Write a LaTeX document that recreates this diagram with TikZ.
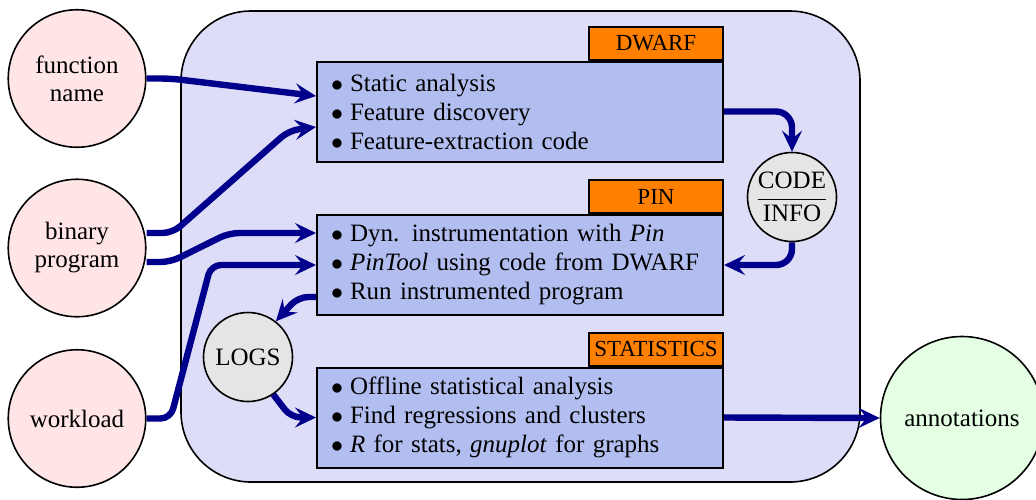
\documentclass[tikz,border=0pt]{standalone}
\usepackage{fontspec}
\setmainfont{Liberation Serif}
\usetikzlibrary{arrows.meta,calc}

\definecolor{frameblue}{RGB}{221,221,248}
\definecolor{stepblue}{RGB}{179,190,240}
\definecolor{tagorange}{RGB}{255,128,0}
\definecolor{inpink}{RGB}{255,229,229}
\definecolor{outgreen}{RGB}{229,255,229}
\definecolor{datagrey}{RGB}{229,229,229}
\definecolor{flownavy}{RGB}{0,0,140}

\newcommand{\itm}{$\bullet$\hspace{3.5pt}}

\begin{document}
\begin{tikzpicture}[x=0.5pt,y=-0.5pt,
  font=\fontsize{12.5}{14.5}\selectfont,
  outerframe/.style={draw=black, line width=0.8pt, fill=frameblue,
    rounded corners=35pt, minimum width=339.5pt, minimum height=235.5pt},
  stepbox/.style={draw=black, line width=1pt, fill=stepblue, align=left,
    text width=189pt, inner xsep=7pt, inner ysep=0pt, minimum height=50pt},
  tagbox/.style={draw=black, line width=1pt, fill=tagorange, anchor=south east,
    minimum width=67pt, minimum height=16.5pt, inner sep=0pt,
    font=\fontsize{11.5}{13}\selectfont},
  source/.style={circle, draw=black, line width=0.8pt, fill=inpink,
    align=center, inner sep=0pt, minimum size=68.75pt,
    font=\fontsize{12.5}{14}\selectfont},
  sink/.style={circle, draw=black, line width=0.8pt, fill=outgreen,
    align=center, inner sep=0pt, minimum size=81.5pt},
  datanode/.style={circle, draw=black, line width=0.8pt, fill=datagrey,
    align=center, inner sep=0pt, minimum size=44.5pt},
  flow/.style={draw=flownavy, line width=3.2pt, rounded corners=5pt,
    -{Stealth[length=10.5pt,width=10pt,inset=4pt]}}
]
\useasboundingbox (0,0) rectangle (1036,499);

% the tool chain
\node[outerframe] (frame) at (520.5,246.5) {};

\node[stepbox] (dwarf) at (520,111.5)
  {\itm Static analysis\\
   \itm Feature discovery\\
   \itm Feature-extraction code};
\node[tagbox] (dwarftag) at (dwarf.north east) {DWARF};

\node[stepbox] (pin) at (520,265)
  {\itm Dyn. instrumentation with \textit{Pin}\\
   \itm \textit{PinTool} using code from DWARF\\
   \itm Run instrumented program};
\node[tagbox] (pintag) at (pin.north east) {PIN};

\node[stepbox] (stats) at (520,417.5)
  {\itm Offline statistical analysis\\
   \itm Find regressions and clusters\\
   \itm \textit{R} for stats, \textit{gnuplot} for graphs};
\node[tagbox] (statstag) at (stats.north east) {STATISTICS};

% intermediate data
\node[datanode] (code) at (792,197) {$\displaystyle\frac{\mbox{CODE}}{\mbox{INFO}}$};
\node[datanode] (logs) at (248,357) {LOGS};

% inputs and output
\node[source] (fname) at (77,78.5) {function\\name};
\node[source] (binary) at (77,248) {binary\\program};
\node[source] (workload) at (77,418.5) {workload};
\node[sink] (annot) at (962,418) {annotations};

% data flow
\draw[flow] (fname.east) -- ++(24,0) -- ($(dwarf.west)+(0,-15.5)$);
\draw[flow] ($(binary.east)+(0,-15)$) -- ++(26,0) -- ($(dwarf.west)+(-27,19)$)
  -- ($(dwarf.west)+(0,15.5)$);
\draw[flow] ($(binary.east)+(0,14)$) -- ++(24,0) -- ($(pin.west)+(-87,-32)$)
  -- ($(pin.west)+(0,-32)$);
\draw[flow] (workload.east) -- ++(24,0) -- ($(pin.west)+(-105,0)$) -- (pin.west);
\draw[flow] ($(pin.west)+(0,32)$) -- ++(-18,0) -- (logs.52);
\draw[flow] (logs.-56) -- ($(stats.west)+(-25,0)$) -- (stats.west);
\draw[flow, rounded corners=8pt] (dwarf.east) -| (code.north);
\draw[flow, rounded corners=8pt] (code.south) |- (pin.east);
\draw[flow] (stats.east) -- (annot.west);
\end{tikzpicture}
\end{document}
